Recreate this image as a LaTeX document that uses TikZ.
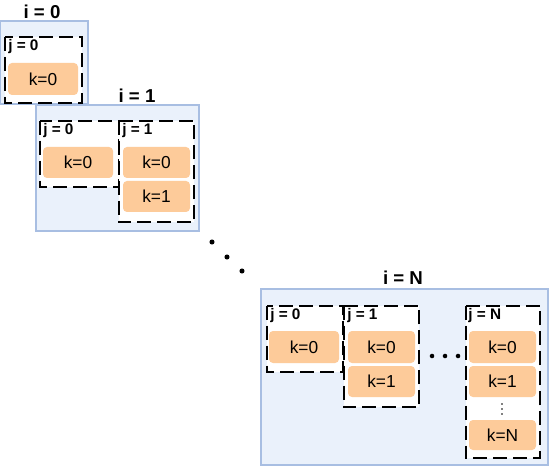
\documentclass[tikz,border=0pt]{standalone}
\usepackage{fontspec}
\setmainfont{Liberation Sans}
\usetikzlibrary{fit}
\definecolor{bluefill}{RGB}{234,241,251}
\definecolor{blueline}{RGB}{168,190,226}
\definecolor{peach}{RGB}{253,203,154}
\tikzset{
  outerbox/.style={draw=blueline, fill=bluefill, line width=1.3pt, inner sep=0pt},
  jbox/.style={fill=white, inner sep=0pt},
  jline/.style={draw=black, line width=1.5pt, dash pattern=on 10.5pt off 4.5pt},
  kbox/.style={fill=peach, rounded corners=3pt, inner sep=0pt},
  ktext/.style={font=\fontsize{13}{15}\selectfont, inner sep=0pt},
  title/.style={font=\bfseries\fontsize{14}{16}\selectfont, inner sep=0pt},
  jlabel/.style={font=\bfseries\fontsize{11.5}{13}\selectfont, inner sep=0pt, anchor=base west},
  bigdot/.style={fill=black, circle, inner sep=0pt, minimum size=3.8pt},
  tinydot/.style={fill=black, circle, inner sep=0pt, minimum size=1.3pt}
}
\begin{document}
\begin{tikzpicture}[x=0.75pt, y=-0.75pt]
\useasboundingbox (0,0) rectangle (549,466);
% ---------- i = 0
\node[outerbox, fit={(0.6,21) (88,104)}] (i0) {};
\node[title] (ti0) at (42,12) {i = 0};
\node[jbox, fit={(5,37) (82,103)}] (i0j0) {};
\node[jlabel] (li0j0) at (8,51) {j = 0};
\draw[jline] (i0j0.north west) rectangle (i0j0.south east);
\node[kbox, fit={(8,63) (78,95)}] (i0k0) {};
\node[ktext] (ti0k0) at (i0k0.center) {k=0};
% ---------- i = 1
\node[outerbox, fit={(36,105) (199,231)}] (i1) {};
\node[title] (ti1) at (137,96) {i = 1};
\node[jbox, fit={(40,121) (119,187)}] (i1j0) {};
\node[jlabel] (li1j0) at (43,135) {j = 0};
\draw[jline] (i1j0.north west) rectangle (i1j0.south east);
\node[jbox, fit={(119,121) (194,222)}] (i1j1) {};
\node[jlabel] (li1j1) at (122,135) {j = 1};
\draw[jline] (i1j1.north west) rectangle (i1j1.south east);
\node[kbox, fit={(43,147) (113,178)}] (i1j0k0) {};
\node[ktext] at (i1j0k0.center) {k=0};
\node[kbox, fit={(123,147) (190,178)}] (i1j1k0) {};
\node[ktext] at (i1j1k0.center) {k=0};
\node[kbox, fit={(123,181) (190,212)}] (i1j1k1) {};
\node[ktext] at (i1j1k1.center) {k=1};
% ---------- diagonal dots
\node[bigdot] (d1) at (212,242) {};
\node[bigdot] (d2) at (227,257) {};
\node[bigdot] (d3) at (242,271) {};
% ---------- i = N
\node[outerbox, fit={(261,289) (548.2,465)}] (iN) {};
\node[title] (tiN) at (403,278) {i = N};
\node[jbox, fit={(267,306) (343,372)}] (iNj0) {};
\node[jlabel] (liNj0) at (270,320) {j = 0};
\draw[jline] (iNj0.north west) rectangle (iNj0.south east);
\node[jbox, fit={(344,306) (419,407)}] (iNj1) {};
\node[jlabel] (liNj1) at (347,320) {j = 1};
\draw[jline] (iNj1.north west) rectangle (iNj1.south east);
\node[jbox, fit={(466,306) (540,458)}] (iNjN) {};
\node[jlabel] (liNjN) at (468,320) {j = N};
\draw[jline] (iNjN.north west) rectangle (iNjN.south east);
\node[kbox, fit={(269,331) (339,363)}] (iNj0k0) {};
\node[ktext] at (iNj0k0.center) {k=0};
\node[kbox, fit={(348,331) (415,363)}] (iNj1k0) {};
\node[ktext] at (iNj1k0.center) {k=0};
\node[kbox, fit={(348,366) (415,397)}] (iNj1k1) {};
\node[ktext] at (iNj1k1.center) {k=1};
\node[kbox, fit={(469,331) (536,363)}] (iNjNk0) {};
\node[ktext] at (iNjNk0.center) {k=0};
\node[kbox, fit={(469,366) (536,397)}] (iNjNk1) {};
\node[ktext] at (iNjNk1.center) {k=1};
\node[kbox, fit={(469,420) (536,450)}] (iNjNkN) {};
\node[ktext] at (iNjNkN.center) {k=N};
% vertical dots
\node[tinydot] (v1) at (502,404) {};
\node[tinydot] (v2) at (502,409) {};
\node[tinydot] (v3) at (502,414) {};
% horizontal dots
\node[bigdot, minimum size=3.4pt] (h1) at (432,356) {};
\node[bigdot, minimum size=3.4pt] (h2) at (445,356) {};
\node[bigdot, minimum size=3.4pt] (h3) at (458,356) {};
\end{tikzpicture}
\end{document}
